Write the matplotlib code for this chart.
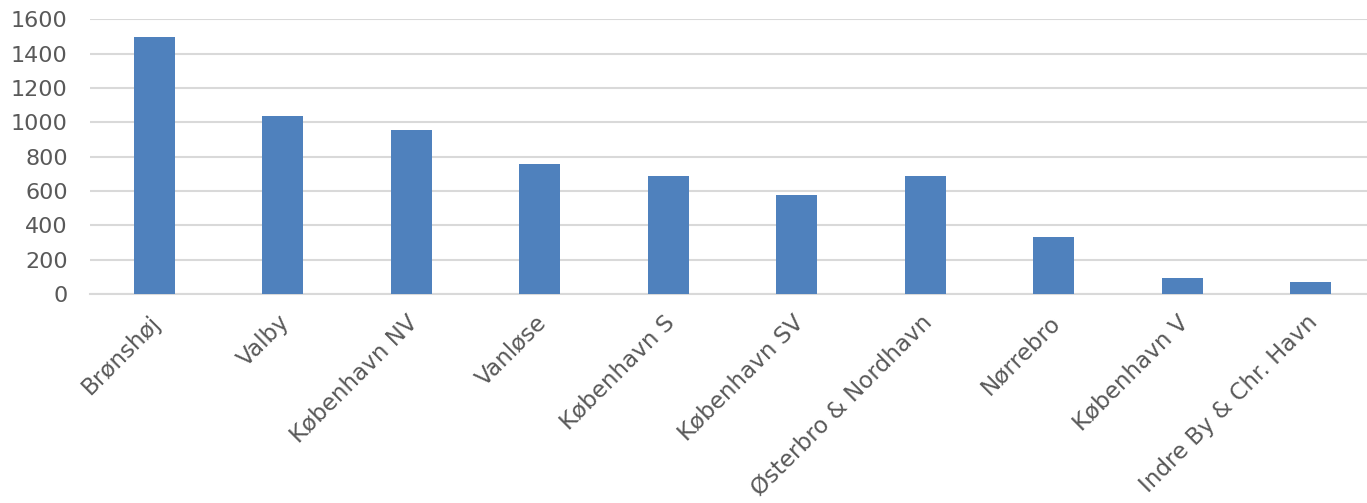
import matplotlib
matplotlib.use("Agg")
import matplotlib.pyplot as plt
import matplotlib.transforms as mtransforms

# data
districts = ["Brønshøj", "Valby", "København NV", "Vanløse", "København S",
             "København SV", "Østerbro & Nordhavn", "Nørrebro", "København V",
             "Indre By & Chr. Havn"]
counts = [1497, 1038, 956, 757, 686, 576, 686, 331, 92, 68]
y_ticks = [0, 200, 400, 600, 800, 1000, 1200, 1400, 1600]

BAR_COLOR = "#4f81bd"
GRID_COLOR = "#d9d9d9"
TEXT_COLOR = "#595959"

W, H = 1367, 503
fig = plt.figure(figsize=(W / 100, H / 100), dpi=100)
ax = fig.add_axes([90 / W, 1 - 294 / H, 1285 / W, 274.7 / H])

x = range(len(districts))
ax.bar(x, counts, width=0.32, color=BAR_COLOR, zorder=3)

ax.set_xlim(-0.5, len(districts) - 0.5)
ax.set_ylim(0, 1600)
ax.set_yticks(y_ticks)
ax.yaxis.grid(True, color=GRID_COLOR, linewidth=1.5, zorder=0)
ax.set_axisbelow(True)

for s in ["top", "right", "left"]:
    ax.spines[s].set_visible(False)
ax.spines["bottom"].set_color(GRID_COLOR)
ax.spines["bottom"].set_linewidth(1.5)

ax.tick_params(axis="both", length=0, colors=TEXT_COLOR, labelsize=16)
ax.tick_params(axis="y", pad=16)
ax.set_xticks(list(x))
ax.set_xticklabels(districts, rotation=45, ha="right", fontsize=16.6)

# shift the rotated labels a bit right/down like the original
offset = mtransforms.ScaledTranslation(11 / 100, -12 / 100, fig.dpi_scale_trans)
for lbl in ax.get_xticklabels():
    lbl.set_transform(lbl.get_transform() + offset)

fig.savefig("out.png", dpi=100)
